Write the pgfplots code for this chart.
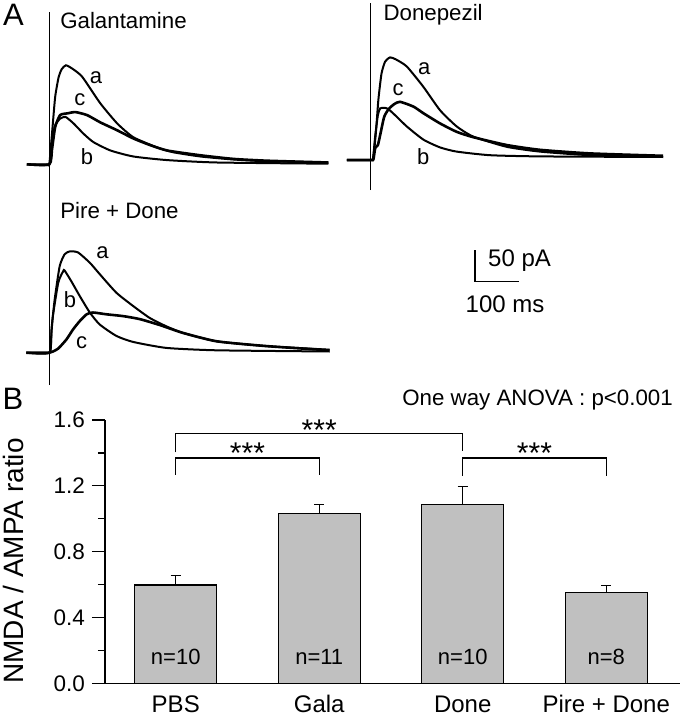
\documentclass[border=0pt]{standalone}
\usepackage{fontspec}
\setmainfont{Liberation Sans}
\newfontfamily\plainsans{Liberation Sans}
\usepackage{pgfplots}
\pgfplotsset{compat=1.18}
\definecolor{barg}{RGB}{192,192,192}
\pgfplotsset{
  trace/.style={hide axis, scale only axis, width=324pt, height=204pt,
    xmin=-60, xmax=660, ymin=-60, ymax=280, clip=false, anchor=south west},
  tr/.style={black, line width=2.0pt, smooth, tension=0.35, mark=none},
  trc/.style={black, line width=2.6pt, smooth, tension=0.35, mark=none},
  art/.style={black, line width=1.4pt, mark=none},
}
\newcommand{\fs}[1]{\fontsize{#1}{#1}\selectfont}
\begin{document}
\begin{tikzpicture}
\useasboundingbox (0,0) rectangle (680pt,-717pt);
% ---------------- Panel A ----------------
\node[font=\plainsans\fs{31}] at (13.5pt,-15pt) {A};
% Galantamine
\begin{axis}[trace, at={(22.3pt,-200.3pt)}]
\addplot[art] coordinates {(0,-43) (0,254)};
\addplot[tr] coordinates {(-50,0) (-5,0) (0,0) (6,51) (13,112) (21,146) (28,159) (37,165) (50,160) (73,146) (113,102) (151,68) (187,45) (240,28) (276,20) (336,13) (409,8) (484,5) (620,3)};
\addplot[trc] coordinates {(-50,0) (0,0) (6,25) (13,62) (24,82) (41,85) (58,87) (84,82) (113,70) (150,57) (187,43) (224,32) (262,23) (336,15) (409,9) (484,6) (620,3)};
\addplot[tr] coordinates {(-50,0) (0,0) (6,40) (13,65) (24,76) (36,79) (54,68) (76,51) (98,37) (136,23) (187,13) (262,7) (373,3) (620,1)};
\node[anchor=base west, inner sep=0pt, font=\fs{22.3}] at (axis cs:24,227) {Galantamine};
\node[font=\fs{22}] at (axis cs:104,145) {a};
\node[font=\fs{22}] at (axis cs:68,108) {c};
\node[font=\fs{22}] at (axis cs:84,13) {b};
\end{axis}
% Donepezil
\begin{axis}[trace, at={(343.7pt,-196pt)}]
\addplot[art] coordinates {(0,-50) (0,261)};
\addplot[tr] coordinates {(-53,0) (0,0) (6,5) (12,50) (17,100) (24,144) (32,164) (43,171) (55,168) (80,156) (117,122) (154,83) (191,56) (228,39) (302,22) (376,14) (487,8) (650,5)};
\addplot[trc] coordinates {(-53,0) (0,0) (6,1) (10,20) (16,25) (22,45) (30,72) (40,85) (52,93) (65,97) (95,89) (117,78) (154,61) (191,47) (228,38) (302,25) (376,17) (487,11) (650,7)};
\addplot[tr] coordinates {(-53,0) (0,0) (5,2) (10,40) (16,75) (21,86) (30,87) (39,85) (58,72) (80,56) (117,34) (154,21) (191,14) (265,8) (376,6) (650,5)};
\node[anchor=base west, inner sep=0pt, font=\fs{22.3}] at (axis cs:28,232.5) {Donepezil};
\node[font=\fs{22}] at (axis cs:119,153) {a};
\node[font=\fs{22}] at (axis cs:61,118) {c};
\node[font=\fs{22}] at (axis cs:117,6) {b};
\end{axis}
% Pire + Done
\begin{axis}[trace, at={(22.3pt,-388.7pt)}]
\addplot[art] coordinates {(0,-54) (0,271)};
\addplot[tr] coordinates {(-51,0) (0,0) (5,40) (12,89) (23,144) (34,164) (46,169) (64,167) (90,150) (112,131) (149,100) (186,78) (223,58) (260,44) (297,33) (372,19) (483,11) (623,5)};
\addplot[tr] coordinates {(-51,0) (0,0) (4,25) (8,61) (20,117) (31,136) (34,137) (49,119) (68,94) (90,67) (112,47) (149,28) (186,18) (260,8) (372,4) (623,2)};
\addplot[trc] coordinates {(-51,0) (0,0) (8,2) (20,7) (38,22) (53,39) (68,53) (83,64) (97,67) (127,64) (164,61) (201,56) (246,46) (297,33) (372,19) (483,11) (623,4)};
\node[anchor=base west, inner sep=0pt, font=\fs{22.3}] at (axis cs:24,223.7) {Pire + Done};
\node[font=\fs{22}] at (axis cs:118,166) {a};
\node[font=\fs{22}] at (axis cs:46,88) {b};
\node[font=\fs{22}] at (axis cs:72,16) {c};
\end{axis}
% scale bar
\draw[line width=1.3pt] (475pt,-250pt) -- (475pt,-281.7pt) -- (519pt,-281.7pt);
\node[anchor=base west, inner sep=0pt, font=\fs{24}] at (488pt,-266pt) {50 pA};
\node[anchor=base west, inner sep=0pt, font=\fs{24}] at (465.5pt,-312.5pt) {100 ms};
% ---------------- Panel B ----------------
\node[font=\plainsans\fs{31}] at (13pt,-399pt) {B};
\node[rotate=90, font=\plainsans\fs{28}] at (13pt,-561pt) {NMDA / AMPA ratio};
\node[anchor=base east, inner sep=0pt, font=\fs{22.3}] at (673pt,-405.5pt) {One way ANOVA : p<0.001};
\begin{axis}[at={(105pt,-683.3pt)}, anchor=south west, scale only axis,
  width=575pt, height=263.3pt, xmin=-0.493, xmax=3.514, ymin=0, ymax=1.6,
  clip=false,
  axis x line=bottom, axis y line=left,
  axis line style={-, line width=1.3pt},
  ytick={0,0.4,0.8,1.2,1.6}, yticklabels={0.0,0.4,0.8,1.2,1.6},
  minor ytick={0.2,0.6,1.0,1.4},
  tick align=outside, major tick length=13pt, minor tick length=7pt,
  ytick style={line width=1.2pt, black},
  minor tick style={line width=1.2pt, black},
  xtick={0,1,2,3}, xticklabels={PBS,Gala,Done,Pire + Done},
  xtick style={draw=none},
  yticklabel style={anchor=east, inner sep=0pt, font=\fs{22.5}, xshift=-7pt},
  xticklabel style={anchor=base, inner sep=0pt, font=\fs{24}, yshift=-16pt},
]
\addplot[ybar, bar width=82pt, fill=barg, draw=black, line width=1.3pt,
  error bars/.cd, y dir=plus, y explicit,
  error bar style={line width=1.3pt, black},
  error mark options={rotate=90, mark size=5pt, line width=1.3pt, black}]
  coordinates {(0,0.597) +- (0,0.056) (1,1.030) +- (0,0.058) (2,1.085) +- (0,0.113) (3,0.551) +- (0,0.044)};
\addplot[black, line width=1.3pt, mark=none] coordinates {(0,1.403) (0,1.516) (2,1.516) (2,1.409)};
\addplot[black, line width=1.3pt, mark=none] coordinates {(0,1.267) (0,1.369) (1,1.369) (1,1.267)};
\addplot[black, line width=1.3pt, mark=none] coordinates {(2,1.26) (2,1.369) (3,1.369) (3,1.26)};
\node[font=\fs{30}] at (axis cs:1,1.541) {***};
\node[font=\fs{30}] at (axis cs:0.5,1.40) {***};
\node[font=\fs{30}] at (axis cs:2.5,1.40) {***};
\node[font=\fs{22}] at (axis cs:0,0.162) {n=10};
\node[font=\fs{22}] at (axis cs:1,0.162) {n=11};
\node[font=\fs{22}] at (axis cs:2,0.162) {n=10};
\node[font=\fs{22}] at (axis cs:3,0.162) {n=8};
\end{axis}
\end{tikzpicture}
\end{document}
